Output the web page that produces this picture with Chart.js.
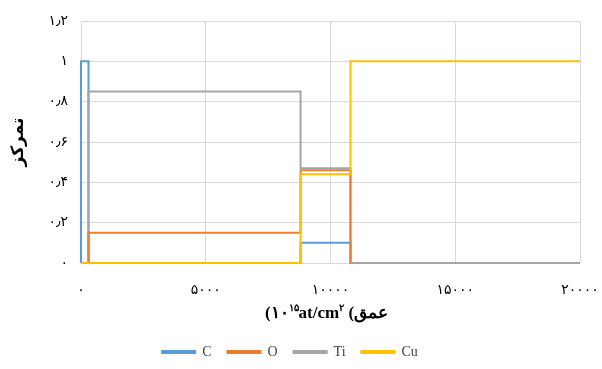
<!DOCTYPE html>
<html>
<head>
<meta charset="utf-8">
<script src="https://cdn.jsdelivr.net/npm/chart.js@4"></script>
<style>
  html, body { margin: 0; padding: 0; background: #fff; }
  #wrap { width: 602px; height: 369px; }
</style>
</head>
<body>
<div id="wrap"><canvas id="c" width="602" height="369"></canvas></div>
<script>
// Depth breakpoints (10^15 at/cm^2); each value applies from depth[i] to depth[i+1]
const depth = [0, 300, 8800, 10800, 20000];
const seriesNames = ['C', 'O', 'Ti', 'Cu'];
const C  = [1, 0, 0.1, 0];
const O  = [0, 0.15, 0.46];        // O series ends (drops to 0) at 10800
const Ti = [0, 0.85, 0.47, 0];
const Cu = [0, 0, 0.44, 1];
const colors = ['#5b9bd5', '#ed7d31', '#a5a5a5', '#ffc000'];
const drawOrder = [3, 1, 2, 0]; // Cu on top, then O, Ti, C
const xTicks = [0, 5000, 10000, 15000, 20000];
const yTicks = [0, 0.2, 0.4, 0.6, 0.8, 1, 1.2];

const faDigits = '۰۱۲۳۴۵۶۷۸۹';
function toFa(v) {
  let s = String(Math.round(v * 10) / 10);
  return s.replace(/[0-9]/g, d => faDigits[+d]).replace('.', '٫');
}

function stepPoints(vals) {
  const pts = [{x: depth[0], y: 0}];
  for (let i = 0; i < vals.length; i++) pts.push({x: depth[i], y: vals[i]});
  if (vals.length === depth.length - 1) {
    pts.push({x: depth[depth.length - 1], y: vals[vals.length - 1]});
  } else {
    pts.push({x: depth[vals.length], y: 0});
  }
  return pts;
}

const allVals = [C, O, Ti, Cu];
const datasets = seriesNames.map((n, i) => ({
  label: n,
  data: stepPoints(allVals[i]),
  borderColor: colors[i],
  backgroundColor: colors[i],
  borderWidth: 2,
  pointRadius: 0,
  stepped: 'before',
  order: drawOrder[i],
  clip: 4,
  fill: false
}));

const xTitlePlugin = {
  id: 'xTitle',
  afterDraw(chart) {
    const ctx = chart.ctx;
    const xs = chart.scales.x;
    const cx = (xs.left + xs.right) / 2 - 4;
    const y = 314;
    const big = 'bold 17px "Liberation Serif", "DejaVu Serif", serif';
    const small = 'bold 10px "Liberation Serif", "DejaVu Serif", serif';
    const pieces = [
      {t: '(۱۰', f: big, dy: 0},
      {t: '۱۵', f: small, dy: -6},
      {t: 'at/cm', f: big, dy: 0},
      {t: '۲', f: small, dy: -6},
      {t: ' (', f: big, dy: 0},
      {t: 'عمق', f: big, dy: 0}
    ];
    ctx.save();
    ctx.fillStyle = '#000';
    ctx.textBaseline = 'middle';
    ctx.textAlign = 'left';
    let total = 0;
    pieces.forEach(p => { ctx.font = p.f; p.w = ctx.measureText(p.t).width; total += p.w; });
    let x = cx - total / 2;
    pieces.forEach(p => { ctx.font = p.f; ctx.fillText(p.t, x, y + p.dy); x += p.w; });
    ctx.restore();
  }
};

new Chart(document.getElementById('c'), {
  type: 'line',
  data: { datasets },
  plugins: [xTitlePlugin],
  options: {
    responsive: false,
    animation: false,
    layout: { padding: { left: 0, right: 22, top: 21, bottom: 0 } },
    plugins: {
      legend: {
        position: 'bottom',
        labels: {
          boxWidth: 33,
          boxHeight: 2,
          padding: 16,
          color: '#404040',
          font: { family: '"Liberation Serif", serif', size: 14 },
          sort: (a, b) => a.datasetIndex - b.datasetIndex
        }
      },
      tooltip: { enabled: false }
    },
    scales: {
      x: {
        type: 'linear',
        min: 0, max: 20000,
        afterBuildTicks(s) { s.ticks = xTicks.map(v => ({value: v})); },
        afterFit(s) { s.height = 66; s.paddingRight = 0; s.paddingLeft = 0; },
        grid: { color: '#d9d9d9', drawTicks: false },
        border: { display: false },
        ticks: {
          padding: 19,
          color: '#000',
          maxRotation: 0,
          font: { family: '"Liberation Serif", "DejaVu Sans", serif', size: 14 },
          callback: v => toFa(v)
        }
      },
      y: {
        min: 0, max: 1.2,
        afterBuildTicks(s) { s.ticks = yTicks.map(v => ({value: v})); },
        afterFit(s) { s.width = 81; s.paddingTop = 0; s.paddingBottom = 0; },
        grid: { color: '#d9d9d9', drawTicks: false },
        border: { display: false },
        title: {
          display: true,
          text: 'تمرکز',
          color: '#000',
          padding: { top: 8, bottom: 0 },
          font: { family: '"Liberation Serif", "DejaVu Sans", serif', size: 17, weight: 'bold' }
        },
        ticks: {
          padding: 13,
          color: '#000',
          font: { family: '"Liberation Serif", "DejaVu Sans", serif', size: 14 },
          callback: v => toFa(v)
        }
      }
    }
  }
});
</script>
</body>
</html>
